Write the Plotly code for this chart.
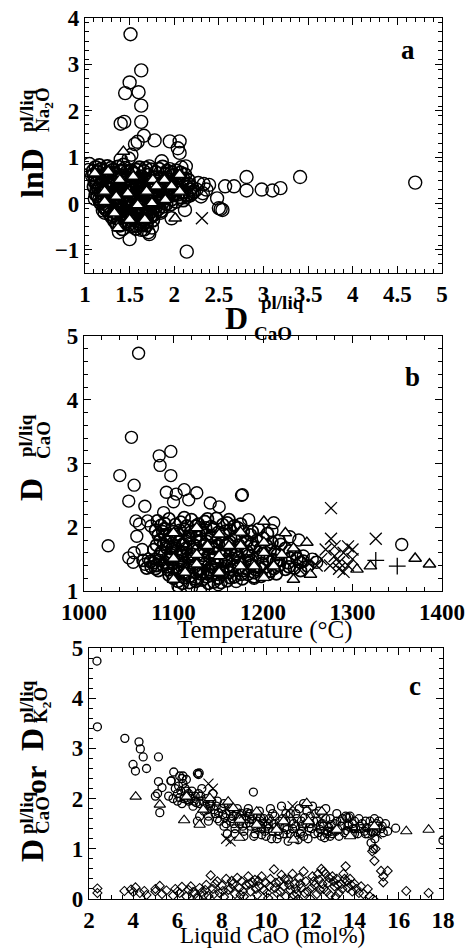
import plotly.graph_objects as go

W, H = 467, 948

# ---------------- Panel a : lnD(Na2O) vs D(CaO) ----------------
a_outliers = [
    (1.51, 3.65), (1.63, 2.87), (1.50, 2.61), (1.45, 2.38), (1.60, 2.40), (1.63, 2.11),
    (1.40, 1.72), (1.44, 1.76), (1.63, 1.76), (1.66, 1.46), (1.78, 1.36), (1.56, 1.28),
    (1.59, 1.33), (1.95, 1.34), (2.06, 1.34), (2.04, 1.19), (2.06, 1.09), (1.52, 1.05),
    (1.86, 0.91), (2.13, 0.80), (2.27, 0.44), (2.33, 0.42), (2.39, 0.40), (2.32, 0.22),
    (2.36, 0.30), (2.48, 0.11), (2.50, -0.10), (2.54, -0.14), (2.52, -0.12), (2.57, 0.37),
    (2.67, 0.37), (2.81, 0.57), (2.81, 0.28), (2.98, 0.30), (3.10, 0.28), (3.19, 0.33),
    (3.41, 0.57), (4.70, 0.45), (2.14, -1.04), (1.97, -0.32), (2.12, -0.14), (1.38, -0.62),
    (1.50, -0.77), (1.71, -0.62), (1.75, -0.52), (1.63, -0.57), (1.72, -0.66), (1.05, 0.85),
    (1.04, 0.72), (1.08, 0.60), (1.40, 0.95), (1.49, 0.97), (1.72, 0.80), (1.95, 0.74),
    (2.08, 0.78), (2.00, 0.62), (2.20, 0.35), (2.25, 0.30), (2.15, 0.15), (2.30, 0.15),
    (1.11, 0.10), (1.13, 0.30), (1.20, -0.15), (1.22, -0.20), (1.85, -0.20), (1.80, -0.05),
]
a_cluster = [
    (1.12, 0.78), (1.18, 0.74), (1.25, 0.80), (1.31, 0.72), (1.37, 0.79), (1.45, 0.76),
    (1.52, 0.70), (1.61, 0.77), (1.74, 0.73), (1.87, 0.79), (2.02, 0.71),
    (1.10, 0.62), (1.16, 0.58), (1.23, 0.64), (1.28, 0.57), (1.35, 0.63), (1.42, 0.60),
    (1.48, 0.55), (1.55, 0.64), (1.63, 0.58), (1.70, 0.61), (1.80, 0.56), (1.90, 0.63),
    (1.98, 0.59), (2.05, 0.55), (2.12, 0.62),
    (1.13, 0.44), (1.19, 0.48), (1.26, 0.42), (1.31, 0.47), (1.37, 0.43), (1.44, 0.49),
    (1.50, 0.41), (1.57, 0.46), (1.66, 0.44), (1.73, 0.48), (1.83, 0.42), (1.93, 0.46),
    (2.01, 0.43), (2.09, 0.47), (2.16, 0.41),
    (1.15, 0.31), (1.21, 0.27), (1.27, 0.33), (1.34, 0.29), (1.41, 0.32), (1.47, 0.26),
    (1.54, 0.30), (1.61, 0.34), (1.68, 0.28), (1.77, 0.31), (1.86, 0.27), (1.96, 0.33),
    (2.04, 0.29), (2.11, 0.25), (2.18, 0.30),
    (1.14, 0.16), (1.20, 0.12), (1.29, 0.18), (1.36, 0.13), (1.43, 0.17), (1.49, 0.11),
    (1.56, 0.15), (1.64, 0.19), (1.71, 0.12), (1.79, 0.16), (1.88, 0.13), (1.99, 0.18),
    (2.07, 0.14), (2.14, 0.19),
    (1.17, 0.02), (1.24, -0.03), (1.31, 0.04), (1.39, -0.01), (1.46, 0.03), (1.53, -0.04),
    (1.60, 0.01), (1.67, 0.05), (1.74, -0.02), (1.82, 0.03), (1.91, -0.01), (2.02, 0.04),
    (1.25, -0.14), (1.33, -0.18), (1.40, -0.12), (1.47, -0.17), (1.55, -0.13), (1.62, -0.19),
    (1.69, -0.15), (1.76, -0.11), (1.85, -0.16),
    (1.30, -0.29), (1.37, -0.33), (1.44, -0.28), (1.52, -0.31), (1.59, -0.27), (1.66, -0.34),
    (1.73, -0.30),
    (1.36, -0.46), (1.45, -0.43), (1.53, -0.48), (1.61, -0.44), (1.69, -0.47),
    (1.21, 0.70), (1.33, 0.66), (1.47, 0.68), (1.58, 0.52), (1.39, 0.38), (1.52, 0.36),
    (1.64, 0.38), (1.75, 0.40), (1.29, 0.08), (1.41, 0.06), (1.58, 0.07), (1.70, 0.22),
    (1.83, 0.20), (1.95, 0.24), (1.35, -0.06), (1.50, -0.08), (1.64, -0.09), (1.42, -0.22),
    (1.57, -0.23), (1.71, -0.24), (1.48, -0.38), (1.62, -0.39),
    (1.14, 0.69), (1.27, 0.67), (1.40, 0.70), (1.54, 0.66), (1.66, 0.69), (1.79, 0.67),
    (1.92, 0.70), (2.07, 0.66),
    (1.12, 0.53), (1.20, 0.51), (1.33, 0.54), (1.46, 0.50), (1.61, 0.53), (1.68, 0.51),
    (1.86, 0.54), (1.95, 0.50), (2.10, 0.53),
    (1.17, 0.38), (1.24, 0.36), (1.30, 0.39), (1.45, 0.35), (1.58, 0.38), (1.70, 0.36),
    (1.80, 0.39), (1.90, 0.35), (2.00, 0.38), (2.14, 0.36),
    (1.18, 0.23), (1.25, 0.21), (1.32, 0.24), (1.38, 0.20), (1.51, 0.23), (1.59, 0.21),
    (1.66, 0.24), (1.74, 0.20), (1.92, 0.23), (2.01, 0.21), (2.09, 0.24), (2.20, 0.22),
    (1.16, 0.09), (1.22, 0.07), (1.34, 0.10), (1.45, 0.06), (1.52, 0.09), (1.62, 0.07),
    (1.77, 0.10), (1.85, 0.06), (1.97, 0.09), (2.10, 0.07),
    (1.21, -0.07), (1.28, -0.09), (1.44, -0.06), (1.57, -0.10), (1.71, -0.07), (1.79, -0.09),
    (1.88, -0.06),
    (1.28, -0.23), (1.35, -0.21), (1.50, -0.24), (1.64, -0.22), (1.78, -0.23),
    (1.33, -0.38), (1.41, -0.40), (1.56, -0.37), (1.69, -0.39), (1.76, -0.36),
    (1.42, -0.55), (1.57, -0.54), (1.66, -0.56),
    (1.09, 0.70), (1.16, 0.82), (1.29, 0.76), (1.43, 0.83), (1.58, 0.72), (1.68, 0.76),
    (1.83, 0.74), (1.97, 0.67),
    (1.11, 0.47), (1.23, 0.56), (1.39, 0.55), (1.52, 0.50), (1.64, 0.47), (1.77, 0.55),
    (1.88, 0.44), (2.03, 0.50), (2.16, 0.50),
    (1.10, 0.36), (1.19, 0.33), (1.36, 0.34), (1.49, 0.31), (1.63, 0.30), (1.73, 0.33),
    (1.84, 0.34), (1.93, 0.30), (2.07, 0.34), (2.22, 0.26),
    (1.12, 0.20), (1.27, 0.14), (1.40, 0.24), (1.54, 0.18), (1.68, 0.16), (1.81, 0.11),
    (1.94, 0.16), (2.04, 0.20), (2.18, 0.18),
    (1.19, 0.04), (1.36, 0.02), (1.49, 0.00), (1.64, 0.02), (1.71, 0.04), (1.87, 0.02),
    (1.96, -0.02),
    (1.23, -0.12), (1.37, -0.14), (1.52, -0.18), (1.60, -0.14), (1.73, -0.18), (1.82, -0.12),
    (1.32, -0.26), (1.46, -0.25), (1.55, -0.32), (1.68, -0.28), (1.75, -0.27),
    (1.39, -0.47), (1.49, -0.45), (1.58, -0.48), (1.65, -0.45),
]
a_triangles = [
    (1.26, 0.69), (1.39, 0.51), (1.54, 0.58), (1.76, 0.51), (1.89, 0.51), (2.06, 0.62),
    (1.22, 0.26), (1.35, 0.15), (1.48, 0.22), (1.69, 0.26), (1.90, 0.08), (2.06, 0.26),
    (1.33, -0.21), (1.50, -0.35), (1.67, -0.35), (1.75, 0.01), (1.22, 0.04), (1.37, -0.53),
    (1.80, 0.37), (1.97, 0.37), (1.11, 0.65), (1.59, -0.03), (1.43, 1.12), (2.01, -0.32),
]
a_crosses = [(2.31, -0.32)]

# ---------------- Panel b : D(CaO) vs Temperature ----------------
b_outliers = [
    (1061, 4.73), (1053, 3.41), (1040, 2.81), (1056, 2.66), (1050, 2.41), (1084, 3.12),
    (1085, 2.97), (1097, 3.19), (1097, 2.81), (1092, 2.55), (1112, 2.59), (1117, 2.43),
    (1126, 2.54), (1141, 2.38), (1151, 2.32), (1100, 2.40), (1103, 2.52), (1068, 2.33),
    (1176, 2.50), (1177, 2.51), (1089, 2.23), (1027, 1.71), (1050, 1.52), (1056, 1.60),
    (1059, 1.86), (1058, 2.10), (1071, 2.10), (1062, 2.05), (1075, 2.02), (1065, 1.65),
    (1055, 1.45), (1068, 1.42), (1072, 1.50), (1355, 1.73), (1184, 2.12), (1212, 2.07),
    (1210, 1.95), (1230, 1.85), (1240, 1.80), (1245, 1.55), (1255, 1.50), (1260, 1.45),
    (1190, 1.20), (1170, 1.15), (1150, 1.10), (1120, 1.05), (1105, 1.08), (1130, 1.02),
]
b_cluster = [
    (1082, 2.10), (1095, 2.13), (1108, 2.08), (1120, 2.12), (1135, 2.09), (1148, 2.14), (1160, 2.07),
    (1080, 1.95), (1090, 1.98), (1100, 1.93), (1112, 1.97), (1124, 1.94), (1136, 1.99),
    (1150, 1.92), (1163, 1.96), (1178, 1.93), (1195, 1.97),
    (1085, 1.80), (1096, 1.83), (1106, 1.78), (1118, 1.82), (1130, 1.79), (1142, 1.84),
    (1155, 1.77), (1168, 1.81), (1182, 1.78), (1200, 1.83), (1218, 1.79),
    (1078, 1.65), (1092, 1.68), (1103, 1.63), (1114, 1.67), (1127, 1.64), (1139, 1.69),
    (1151, 1.62), (1164, 1.66), (1176, 1.63), (1190, 1.68), (1208, 1.64), (1225, 1.67),
    (1080, 1.50), (1094, 1.53), (1105, 1.48), (1116, 1.52), (1128, 1.49), (1140, 1.54),
    (1153, 1.47), (1166, 1.51), (1180, 1.48), (1195, 1.53), (1212, 1.49), (1230, 1.52), (1245, 1.47),
    (1075, 1.38), (1088, 1.41), (1100, 1.36), (1111, 1.40), (1123, 1.37), (1135, 1.42),
    (1147, 1.35), (1160, 1.39), (1173, 1.36), (1187, 1.41), (1202, 1.37), (1218, 1.40),
    (1235, 1.36), (1250, 1.39),
    (1095, 1.25), (1106, 1.28), (1118, 1.23), (1130, 1.27), (1142, 1.24), (1155, 1.29),
    (1168, 1.22), (1183, 1.26), (1198, 1.23), (1215, 1.27),
    (1105, 1.15), (1118, 1.13), (1132, 1.17), (1145, 1.14), (1160, 1.16),
    (1090, 1.88), (1110, 1.72), (1122, 1.57), (1137, 1.88), (1145, 1.60), (1158, 1.72),
    (1112, 1.45), (1133, 1.30), (1149, 1.44), (1170, 1.58), (1098, 1.60), (1125, 2.02),
    (1086, 2.03), (1102, 2.04), (1115, 2.02), (1128, 2.05), (1142, 2.01), (1155, 2.04), (1168, 2.02),
    (1083, 1.88), (1095, 1.87), (1105, 1.89), (1117, 1.86), (1129, 1.88), (1143, 1.87),
    (1156, 1.89), (1170, 1.86), (1186, 1.88),
    (1081, 1.72), (1089, 1.73), (1100, 1.71), (1111, 1.74), (1123, 1.72), (1135, 1.73),
    (1148, 1.71), (1161, 1.74), (1173, 1.72), (1187, 1.73), (1204, 1.71), (1220, 1.73),
    (1085, 1.58), (1097, 1.57), (1108, 1.59), (1120, 1.58), (1133, 1.56), (1146, 1.59),
    (1158, 1.57), (1171, 1.58), (1184, 1.56), (1200, 1.59), (1216, 1.57), (1236, 1.58),
    (1078, 1.44), (1090, 1.45), (1099, 1.43), (1109, 1.46), (1121, 1.44), (1133, 1.45),
    (1146, 1.43), (1159, 1.46), (1172, 1.44), (1185, 1.45), (1199, 1.43), (1215, 1.46),
    (1228, 1.44), (1242, 1.45),
    (1083, 1.32), (1094, 1.33), (1104, 1.31), (1116, 1.34), (1128, 1.32), (1139, 1.33),
    (1151, 1.31), (1164, 1.34), (1178, 1.32), (1192, 1.33), (1208, 1.31), (1225, 1.34), (1242, 1.32),
    (1100, 1.20), (1112, 1.21), (1124, 1.19), (1137, 1.22), (1150, 1.20), (1163, 1.21),
    (1177, 1.19), (1190, 1.22),
    (1070, 1.36), (1074, 1.46), (1081, 1.40), (1066, 1.48),
    (1090, 2.06), (1112, 2.15), (1138, 2.13), (1162, 2.12), (1175, 2.05),
    (1088, 1.93), (1107, 1.95), (1119, 1.92), (1131, 1.95), (1145, 1.97), (1158, 1.94),
    (1172, 1.99), (1188, 1.93), (1205, 1.90),
    (1092, 1.77), (1103, 1.85), (1114, 1.78), (1126, 1.85), (1137, 1.78), (1150, 1.82),
    (1163, 1.77), (1177, 1.84), (1193, 1.79), (1210, 1.76),
    (1087, 1.62), (1098, 1.66), (1110, 1.61), (1121, 1.65), (1133, 1.62), (1144, 1.67),
    (1157, 1.61), (1169, 1.64), (1182, 1.62), (1197, 1.66), (1214, 1.61), (1230, 1.63),
    (1084, 1.48), (1096, 1.50), (1110, 1.55), (1122, 1.50), (1134, 1.48), (1146, 1.51),
    (1159, 1.49), (1173, 1.52), (1187, 1.48), (1204, 1.50), (1220, 1.48), (1238, 1.51),
    (1080, 1.35), (1093, 1.38), (1106, 1.34), (1118, 1.38), (1130, 1.34), (1142, 1.38),
    (1155, 1.35), (1167, 1.38), (1181, 1.35), (1196, 1.38), (1212, 1.35), (1229, 1.38),
    (1098, 1.28), (1112, 1.26), (1125, 1.29), (1138, 1.27), (1150, 1.26), (1162, 1.29),
    (1176, 1.26), (1190, 1.29), (1206, 1.26),
    (1110, 1.12), (1125, 1.15), (1139, 1.12), (1153, 1.13),
]
b_triangles = [
    (1126, 1.99), (1100, 1.51), (1126, 1.57), (1126, 1.42), (1151, 1.89), (1151, 1.55),
    (1151, 1.29), (1162, 1.71), (1175, 1.71), (1175, 1.39), (1190, 1.39), (1201, 2.09),
    (1201, 1.76), (1201, 1.60), (1212, 1.39), (1221, 1.57), (1225, 1.91), (1234, 1.67),
    (1234, 1.18), (1249, 1.76), (1253, 1.26), (1201, 1.21), (1100, 1.18), (1113, 1.29),
    (1175, 1.92), (1138, 1.71), (1100, 1.91), (1305, 1.34), (1320, 1.39), (1370, 1.51),
    (1386, 1.42),
]
b_crosses = [
    (1276, 2.30), (1276, 1.82), (1326, 1.82), (1270, 1.65), (1280, 1.55), (1285, 1.45),
    (1290, 1.60), (1295, 1.70), (1300, 1.65), (1275, 1.40), (1265, 1.50), (1285, 1.35),
    (1290, 1.30), (1260, 1.40), (1300, 1.50), (1295, 1.40), (1280, 1.70), (1250, 1.45),
    (1240, 1.35),
]
b_plus = [(1326, 1.48), (1350, 1.39)]

# ---------------- Panel c : D vs liquid CaO ----------------
c_circles = [
    (2.36, 4.74), (2.38, 3.43), (3.62, 3.20), (4.26, 3.13), (4.32, 2.99), (4.45, 2.83),
    (3.99, 2.68), (4.10, 2.55), (4.60, 2.60), (5.14, 2.83), (5.14, 2.34), (5.30, 2.22),
    (5.83, 2.53), (5.72, 2.36), (6.25, 2.45), (6.40, 2.38), (6.98, 2.51), (9.43, 2.13),
    (18.0, 1.17), (15.86, 1.41), (14.85, 1.00), (14.75, 1.12), (14.92, 1.20), (5.0, 2.05),
    (5.2, 1.72), (5.1, 2.10),
    (5.6, 2.05), (5.7, 2.35), (5.8, 2.00), (5.9, 2.20), (6.0, 1.95), (6.0, 2.10),
    (6.1, 2.45), (6.2, 2.40), (6.25, 2.30), (6.3, 2.00), (6.2, 1.90), (6.4, 2.15),
    (6.5, 1.95), (6.5, 2.10), (6.6, 2.00), (6.7, 1.85), (6.8, 2.05), (6.9, 2.50),
    (6.95, 2.48), (6.9, 1.55), (7.0, 1.90), (7.1, 2.20), (7.2, 1.75), (7.3, 2.00),
    (7.4, 1.65), (7.5, 1.85), (7.6, 2.10), (7.7, 1.70), (7.8, 1.95), (7.9, 1.55),
    (8.0, 1.80), (8.1, 1.45), (8.2, 1.70), (8.3, 1.85), (8.4, 1.55), (8.5, 1.65),
    (8.6, 1.40), (8.7, 1.80), (8.8, 1.50), (8.9, 1.70), (9.0, 1.35), (9.1, 1.60),
    (9.2, 1.80), (9.3, 1.45), (9.4, 1.65), (9.5, 1.30), (9.6, 1.55), (9.7, 1.75),
    (9.8, 1.40), (9.9, 1.60), (10.0, 1.25), (10.1, 1.50), (10.2, 1.80), (10.3, 1.35),
    (10.4, 1.65), (10.5, 1.20), (10.6, 1.45), (10.7, 1.85), (10.8, 1.30), (10.9, 1.55),
    (11.0, 1.15), (11.1, 1.70), (11.2, 1.40), (11.3, 1.25), (11.4, 1.60), (11.5, 1.80),
    (11.6, 1.35), (11.7, 1.90), (11.8, 1.50), (11.9, 1.20), (12.0, 1.65), (12.1, 1.85),
    (12.2, 1.30), (12.3, 1.55), (12.4, 1.75), (12.5, 1.25), (12.6, 1.45), (12.7, 1.80),
    (12.8, 1.35), (12.9, 1.60), (13.0, 1.30), (13.1, 1.50), (13.2, 1.70), (13.3, 1.25),
    (13.4, 1.45), (13.6, 1.65), (13.7, 1.35), (13.8, 1.65), (13.9, 1.50), (14.0, 1.30),
    (14.2, 1.60), (14.3, 1.40), (14.5, 1.55), (14.6, 1.30), (14.8, 1.45), (14.9, 1.60),
    (15.0, 1.35), (15.1, 1.55), (15.2, 1.40), (15.4, 1.50), (15.5, 1.35),
    (6.1, 2.02), (6.45, 1.98), (6.85, 1.92), (7.25, 1.85), (7.65, 1.78), (8.05, 1.68),
    (8.45, 1.60), (8.85, 1.55), (9.25, 1.52), (9.65, 1.48), (10.05, 1.45), (10.45, 1.43),
    (10.85, 1.42), (11.25, 1.50), (11.65, 1.45), (12.05, 1.40), (12.45, 1.38), (12.85, 1.42),
    (13.25, 1.38), (13.65, 1.36), (14.05, 1.40), (14.45, 1.35), (14.85, 1.33), (8.25, 1.30),
    (9.45, 1.25), (10.25, 1.20), (11.45, 1.18), (12.65, 1.22),
    (6.15, 2.15), (6.55, 2.05), (6.75, 1.95), (7.05, 2.05), (7.35, 1.78), (7.55, 1.95),
    (7.85, 1.72), (8.15, 1.62), (8.35, 1.75), (8.55, 1.50), (8.75, 1.62), (8.95, 1.45),
    (9.15, 1.72), (9.35, 1.58), (9.55, 1.42), (9.75, 1.62), (9.95, 1.35), (10.15, 1.60),
    (10.35, 1.50), (10.55, 1.35), (10.75, 1.60), (10.95, 1.38), (11.15, 1.55), (11.35, 1.45),
    (11.55, 1.30), (11.75, 1.62), (11.95, 1.42), (12.15, 1.55), (12.35, 1.32), (12.55, 1.50),
    (12.75, 1.30), (12.95, 1.48), (13.15, 1.35), (13.35, 1.55), (13.55, 1.32), (13.75, 1.48),
    (13.95, 1.40), (14.15, 1.30), (14.35, 1.50), (14.55, 1.42), (14.75, 1.35), (15.05, 1.45),
    (15.3, 1.32), (13.65, 1.62), (13.75, 1.62),
    (6.05, 2.25), (6.35, 2.20), (6.65, 2.15), (6.95, 2.10), (7.15, 1.95), (7.45, 1.90),
    (7.75, 1.85), (8.10, 1.90), (8.45, 1.80), (8.65, 1.70), (8.90, 1.60), (9.10, 1.50),
    (9.30, 1.70), (9.60, 1.65), (9.85, 1.50), (10.10, 1.40), (10.30, 1.70), (10.60, 1.55),
    (10.90, 1.70), (11.10, 1.30), (11.35, 1.70), (11.60, 1.55), (11.85, 1.75), (12.00, 1.50),
    (12.25, 1.70), (12.45, 1.45), (12.70, 1.60), (12.95, 1.35), (13.20, 1.55), (13.45, 1.60),
    (13.70, 1.45), (14.00, 1.55), (14.25, 1.45), (14.50, 1.30), (14.70, 1.55), (15.00, 1.50),
    (15.25, 1.45), (7.00, 1.65), (7.40, 1.55), (7.80, 1.60), (8.20, 1.50), (8.60, 1.30),
    (9.00, 1.25), (9.80, 1.28), (10.60, 1.28), (11.70, 1.25), (12.90, 1.25), (13.90, 1.30),
]
c_triangles = [
    (4.11, 2.04), (5.20, 1.88), (6.30, 1.57), (16.34, 1.35), (17.35, 1.38), (6.41, 2.04),
    (7.16, 1.78), (7.46, 2.01), (8.29, 1.94), (8.82, 1.58), (8.52, 1.81), (9.58, 1.74),
    (9.58, 1.48), (10.48, 1.38), (10.79, 1.55), (11.24, 1.18), (11.84, 1.91), (11.92, 1.55),
    (12.52, 1.74), (13.20, 1.38), (13.80, 1.25), (14.90, 1.45), (7.00, 1.48), (8.80, 1.22),
]
c_crosses = [
    (7.4, 2.30), (7.6, 2.20), (8.2, 1.20), (8.4, 1.15), (11.2, 1.85), (11.0, 1.75),
    (12.5, 1.60), (15.0, 1.30), (9.0, 1.70), (10.0, 1.55),
]
c_diamonds = [
    (2.38, 0.21), (2.38, 0.12), (3.6, 0.16), (3.9, 0.19), (4.0, 0.14), (4.1, 0.23),
    (4.3, 0.12), (4.5, 0.16), (4.6, 0.08), (5.0, 0.15), (5.0, 0.20), (5.2, 0.26),
    (5.3, 0.10), (5.5, 0.17), (5.8, 0.07), (5.9, 0.20), (6.1, 0.12), (6.2, 0.24),
    (6.4, 0.05), (6.5, 0.18), (6.6, 0.25), (6.8, 0.10), (6.9, 0.02), (7.0, 0.22),
    (7.1, 0.14), (7.3, 0.28), (7.4, 0.06), (7.5, 0.47), (7.6, 0.20), (7.8, 0.35),
    (7.9, 0.12), (8.0, 0.27), (8.1, 0.04), (8.2, 0.40), (8.3, 0.18), (8.5, 0.30),
    (8.6, 0.10), (8.7, 0.42), (8.8, 0.22), (8.9, 0.35), (9.0, 0.05), (9.1, 0.28),
    (9.2, 0.45), (9.3, 0.15), (9.4, 0.33), (9.5, 0.38), (9.6, 0.08), (9.7, 0.25),
    (9.8, 0.45), (9.9, 0.18), (10.0, 0.32), (10.1, 0.02), (10.2, 0.40), (10.36, 0.59),
    (10.4, 0.22), (10.5, 0.12), (10.6, 0.35), (10.7, 0.48), (10.8, 0.25), (10.9, 0.05),
    (11.0, 0.38), (11.1, 0.18), (11.2, 0.50), (11.3, 0.30), (11.4, 0.10), (11.5, 0.42),
    (11.6, 0.22), (11.7, 0.55), (11.8, 0.35), (11.9, 0.15), (12.0, 0.00), (12.1, 0.45),
    (12.2, 0.28), (12.3, 0.10), (12.4, 0.38), (12.5, 0.60), (12.6, 0.20), (12.7, 0.50),
    (12.8, 0.32), (12.9, 0.08), (13.0, 0.45), (13.1, 0.25), (13.2, 0.40), (13.3, 0.12),
    (13.4, 0.30), (13.5, 0.50), (13.6, 0.65), (13.7, 0.22), (13.8, 0.40), (13.9, 0.15),
    (14.0, 0.30), (14.2, 0.12), (14.4, 0.10), (14.6, 0.20), (14.7, 0.05), (14.85, 0.00),
    (14.9, 0.76), (15.2, 0.56), (15.5, 0.56), (15.3, 0.45), (15.3, 0.33), (16.34, 0.16),
    (17.35, 0.12), (14.8, 0.95), (14.95, 1.00),
    (6.0, 0.15), (6.7, 0.14), (7.2, 0.08), (7.7, 0.30), (8.4, 0.22), (8.95, 0.15),
    (9.55, 0.20), (10.15, 0.25), (10.65, 0.15), (11.05, 0.28), (11.55, 0.30), (12.05, 0.22),
    (12.45, 0.18), (12.85, 0.42), (13.25, 0.28), (13.65, 0.35), (14.1, 0.20), (11.25, 0.08),
    (7.25, 0.18), (7.65, 0.10), (8.05, 0.16), (8.45, 0.36), (8.85, 0.08), (9.25, 0.30),
    (9.65, 0.36), (10.05, 0.12), (10.45, 0.32), (10.85, 0.40), (11.35, 0.20), (11.75, 0.12),
    (12.15, 0.35), (12.35, 0.50), (12.55, 0.30), (12.75, 0.15), (13.05, 0.35), (13.45, 0.20),
    (13.55, 0.40), (13.85, 0.28), (14.3, 0.25), (12.6, 0.55), (13.15, 0.05), (11.45, 0.00),
]

# ---------------- figure ----------------
def px_x(px):
    return px / W

def px_y(py):
    return 1 - py / H

fig = go.Figure()

def unz(pts):
    return [p[0] for p in pts], [p[1] for p in pts]

def add(pts, xa, ya, symbol, size, fill=None, lw=1.2):
    x, y = unz(pts)
    col = "black" if fill is None else fill
    marker = dict(symbol=symbol, size=size, color=col, line=dict(color="black", width=lw))
    fig.add_trace(go.Scatter(x=x, y=y, mode="markers", xaxis=xa, yaxis=ya,
                             marker=marker, showlegend=False, hoverinfo="skip"))

add(a_outliers, "x", "y", "circle-open", 13, lw=1.4)
add(a_cluster, "x", "y", "circle-open", 13, lw=1.8)
add(a_triangles, "x", "y", "triangle-up", 11, fill="white", lw=1.4)
add(a_crosses, "x", "y", "x-thin-open", 12, lw=1.3)

add(b_outliers, "x2", "y2", "circle-open", 12, lw=1.4)
add(b_cluster, "x2", "y2", "circle-open", 12, lw=1.8)
add(b_triangles, "x2", "y2", "triangle-up", 11, fill="white", lw=1.4)
add(b_crosses, "x2", "y2", "x-thin-open", 12, lw=1.3)
add(b_plus, "x2", "y2", "cross-thin-open", 12, lw=1.3)

add(c_diamonds, "x3", "y3", "diamond-open", 7, lw=1.1)
add(c_circles, "x3", "y3", "circle-open", 8, lw=1.3)
add(c_triangles, "x3", "y3", "triangle-up", 10, fill="white", lw=1.1)
add(c_crosses, "x3", "y3", "x-thin-open", 10, lw=1.1)

tickfont = dict(family="Liberation Serif", size=23, color="black", weight="bold")

def axis(domain, rng, dtick, minor, anchor):
    return dict(domain=domain, range=rng, dtick=dtick, tick0=rng[0], anchor=anchor,
                automargin=False,
                showline=True, linecolor="black", linewidth=1.2, mirror="allticks",
                ticks="inside", ticklen=7, tickwidth=1.2, tickcolor="black",
                minor=dict(dtick=minor, ticks="inside", ticklen=4, tickwidth=1,
                           tickcolor="black", showgrid=False),
                showgrid=False, zeroline=False, tickfont=tickfont)

fig.update_layout(
    template="none",
    width=W, height=H, margin=dict(l=0, r=0, t=0, b=0, autoexpand=False),
    plot_bgcolor="white", paper_bgcolor="white",
    xaxis=axis([px_x(85), px_x(442)], [1, 5], 0.5, 0.1, "y"),
    yaxis=axis([px_y(273), px_y(18)], [-1.5, 4], 1, 0.2, "x"),
    xaxis2=axis([px_x(84), px_x(442)], [1000, 1400], 100, 20, "y2"),
    yaxis2=axis([px_y(591), px_y(336)], [1, 5], 1, 0.2, "x2"),
    xaxis3=axis([px_x(89), px_x(443)], [2, 18], 2, 0.5, "y3"),
    yaxis3=axis([px_y(899), px_y(648)], [0, 5], 1, 0.2, "x3"),
)
fig.layout.yaxis.tick0 = -1
fig.layout.yaxis.minor.tick0 = -1.5

def ann(text, px, py, size, bold=True, angle=0):
    fig.add_annotation(text=text, x=px_x(px), y=px_y(py), xref="paper", yref="paper",
                       showarrow=False, textangle=angle, xanchor="center", yanchor="middle",
                       font=dict(family="Liberation Serif", size=size, color="black",
                                 weight="bold" if bold else "normal"))

# panel labels
ann("a", 408, 50, 27)
ann("b", 412, 377, 27)
ann("c", 415, 686, 27)

# panel a y title
ann("lnD", 32, 173, 32, angle=-90)
ann("pl/liq", 27, 111, 19, angle=-90)
ann("Na<sub>2</sub>O", 44, 110, 19, angle=-90)
# panel a x title
ann("D", 236, 318, 32)
ann("pl/liq", 282, 302, 19)
ann("CaO", 273, 333, 19)

# panel b y title
ann("D", 31, 490, 32, angle=-90)
ann("pl/liq", 26, 436, 19, angle=-90)
ann("CaO", 43, 440, 19, angle=-90)
# panel b x title
ann("Temperature (°C)", 265, 630, 25, bold=False)

# panel c y title
ann("D", 32, 851, 32, angle=-90)
ann("pl/liq", 26, 813, 19, angle=-90)
ann("CaO", 42, 815, 19, angle=-90)
ann("or", 35, 780, 30, angle=-90)
ann("D", 32, 740, 32, angle=-90)
ann("pl/liq", 26, 702, 19, angle=-90)
ann("K<sub>2</sub>O", 42, 705, 19, angle=-90)
# panel c x title
ann("Liquid CaO (mol%)", 272, 935, 23, bold=False)

fig.write_html("out.html")
